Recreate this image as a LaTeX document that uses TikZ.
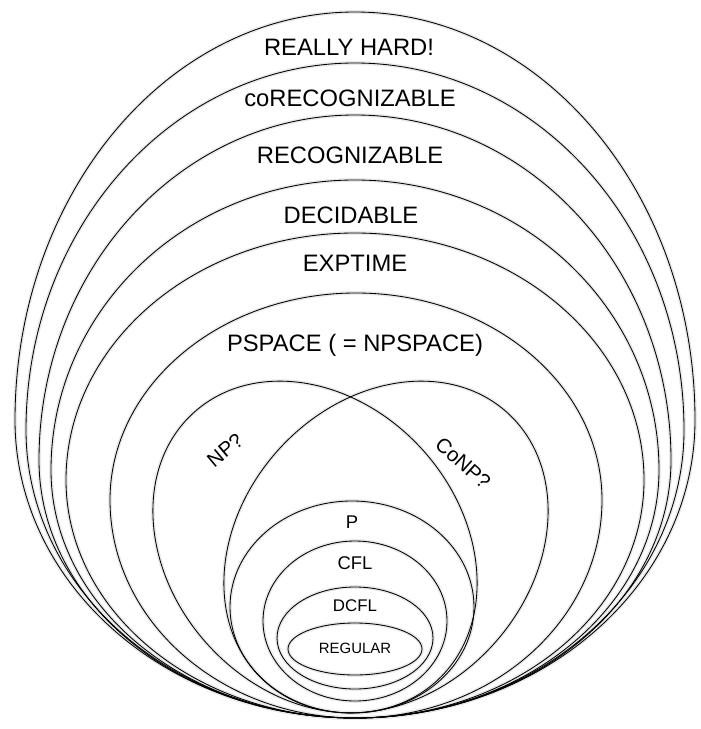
\documentclass[tikz,border=0pt]{standalone}
\usepackage{fontspec}
\setmainfont{Liberation Sans}
% all class outlines: eggs are centre x / widest y / half width / upper and lower half height
\newcommand{\classlines}{%
  \foreach \cx/\wy/\rx/\ryt/\ryb in {355/420/340/408/298, 355/430/329/367/288, 355/460/316/345/258,
      355/470/304/290/248, 355/480/289/247/238, 356/500/246/207/218}
    \draw (\cx-\rx,\wy) arc[start angle=180,end angle=360,x radius=\rx,y radius=\ryt]
      arc[start angle=0,end angle=180,x radius=\rx,y radius=\ryb];
  \draw[rotate around={42:(315,547)}] (315,547) ellipse [x radius=145, y radius=181]; % NP
  \draw[rotate around={-42:(386,547)}] (386,547) ellipse [x radius=145, y radius=181]; % coNP
  \foreach \cx/\cy/\rx/\ry in {352/607/122/106, 355/621/92/80, 355/638/78/51, 355/649/67/26}
    \draw (\cx,\cy) ellipse [x radius=\rx, y radius=\ry];
}
\begin{document}
\begin{tikzpicture}[x=0.025cm,y=-0.025cm,line width=0.6pt,
  big/.style={font=\fontsize{16.9}{20}\selectfont},
  mid/.style={font=\fontsize{14.5}{17}\selectfont},
  small/.style={font=\fontsize{13.1}{15}\selectfont}]
  \useasboundingbox (0,0) rectangle (700,729);
  % soft shadow first, then the lines
  \begin{scope}[black!9,line width=2.6pt]
    \classlines
  \end{scope}
  \classlines
  % labels
  \node[big] (hard) at (349,47) {REALLY HARD!};
  \node[big] (corec) at (350,98) {coRECOGNIZABLE};
  \node[big] (rec) at (350,155) {RECOGNIZABLE};
  \node[big] (dec) at (351,215) {DECIDABLE};
  \node[big] (exp) at (355,263) {EXPTIME};
  \node[big] (pspace) at (355,345) {PSPACE ( = NPSPACE)};
  \node[mid,rotate=40] (np) at (225,450) {NP?};
  \node[mid,rotate=-42] (conp) at (463,463) {CoNP?};
  \node[small] (p) at (352,522) {P};
  \node[small] (cfl) at (355,563) {CFL};
  \node[font=\fontsize{12}{14}\selectfont] (dcfl) at (355,606) {DCFL};
  \node[font=\fontsize{10.6}{12}\selectfont] (reg) at (355,648) {REGULAR};
\end{tikzpicture}
\end{document}
